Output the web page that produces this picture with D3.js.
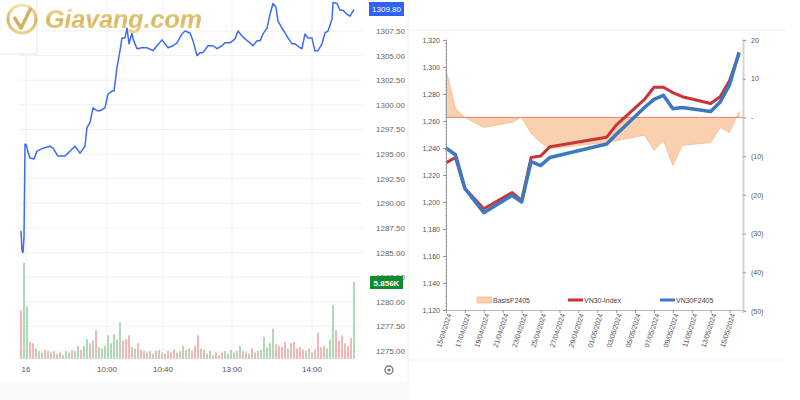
<!DOCTYPE html>
<html>
<head>
<meta charset="utf-8">
<script src="https://cdn.jsdelivr.net/npm/d3@7"></script>
<style>
  html, body { margin: 0; padding: 0; background: #fff; }
  svg { display: block; font-family: "Liberation Sans", Arial, sans-serif; }
</style>
</head>
<body>
<script>
/* global d3 */
// ---- left chart: gold intraday (t = session minute index) ----
const priceT = [1, 2, 3, 4, 5, 6, 8, 10, 14, 17, 23, 30, 33, 38, 45, 48, 55, 60, 65, 67, 70, 73, 77, 80, 85, 88, 92, 94,
  97, 100, 102, 105, 107, 109, 112, 113, 117, 122, 127, 133, 137, 142, 145, 148, 153, 157, 162, 165, 170, 173, 177,
  180, 183, 188, 193, 197, 202, 205, 210, 215, 218, 222, 225, 230, 233, 237, 240, 243, 247, 250, 253, 256, 258, 262,
  265, 268, 272, 275, 280, 282, 285, 288, 292, 293, 295, 298, 302, 305, 308, 312, 313, 317, 320, 323, 327, 330, 334];
const priceV = [1287.2, 1285.2, 1285.0, 1286.5, 1296.0, 1296.0, 1295.2, 1294.6, 1294.5, 1295.3, 1295.6, 1295.8, 1295.6,
  1294.8, 1294.8, 1295.1, 1295.8, 1295.1, 1295.8, 1297.7, 1298.2, 1299.7, 1299.4, 1299.4, 1299.7, 1301.1, 1301.4,
  1301.4, 1303.8, 1305.5, 1306.8, 1306.8, 1307.8, 1306.2, 1307.3, 1306.7, 1305.7, 1305.8, 1305.8, 1305.5, 1306.0,
  1306.6, 1306.2, 1305.8, 1306.0, 1306.3, 1307.2, 1307.5, 1307.3, 1306.5, 1305.0, 1305.3, 1305.3, 1306.0, 1306.0,
  1305.7, 1306.0, 1306.3, 1306.3, 1306.7, 1307.5, 1307.0, 1306.7, 1306.3, 1306.0, 1306.5, 1306.5, 1307.2, 1307.8,
  1309.2, 1310.3, 1309.9, 1308.5, 1307.8, 1307.3, 1306.8, 1306.2, 1306.2, 1305.8, 1305.7, 1307.2, 1306.8, 1306.8,
  1306.3, 1305.5, 1305.5, 1306.2, 1307.3, 1307.5, 1308.7, 1310.4, 1310.3, 1309.6, 1309.6, 1309.2, 1309.0, 1309.7];
const volK = [3.7, 7.3, 4.0, 1.3, 1.2, 0.8, 0.6, 0.5, 0.7, 0.6, 0.5, 0.6, 0.4, 0.5, 0.3, 0.6, 0.5, 0.7, 0.6, 1.0,
  0.7, 1.0, 1.5, 1.2, 1.4, 2.2, 0.9, 0.8, 1.0, 1.8, 1.2, 1.9, 1.5, 2.8, 1.4, 1.5, 1.8, 0.9, 0.8, 1.2,
  0.7, 0.6, 0.5, 0.6, 0.4, 0.6, 0.7, 0.5, 0.4, 0.6, 0.5, 0.7, 0.5, 0.6, 1.0, 0.7, 0.8, 0.6, 1.0, 1.8,
  0.8, 0.7, 0.4, 0.6, 0.3, 0.5, 0.3, 0.5, 0.6, 0.4, 0.7, 0.5, 0.6, 1.0, 0.6, 0.5, 0.4, 0.8, 0.5, 0.6,
  0.7, 1.7, 0.9, 1.2, 2.3, 1.1, 1.0, 0.9, 1.3, 0.8, 1.2, 1.3, 0.8, 0.9, 0.7, 0.6, 0.8, 0.5, 0.7, 2.0,
  0.9, 1.0, 0.8, 1.5, 4.1, 2.2, 1.4, 1.8, 1.2, 1.0, 1.6, 5.856];
const volUp = [0, 1, 1, 0, 0, 1, 0, 1, 0, 0, 1, 0, 0, 1, 0, 1, 1, 0, 1, 1,
  0, 1, 1, 0, 1, 0, 1, 1, 1, 1, 1, 1, 1, 1, 0, 0, 0, 0, 1, 0,
  0, 0, 1, 0, 1, 0, 1, 0, 1, 0, 0, 0, 1, 0, 1, 1, 0, 0, 0, 0,
  0, 1, 0, 1, 0, 0, 1, 0, 1, 1, 1, 0, 1, 1, 0, 0, 1, 0, 1, 0,
  1, 1, 1, 1, 1, 0, 0, 0, 0, 1, 0, 0, 0, 0, 0, 1, 0, 1, 0, 0,
  0, 0, 1, 1, 1, 0, 0, 0, 0, 0, 0, 1];
const priceTicks = [1275, 1277.5, 1280, 1282.5, 1285, 1287.5, 1290, 1292.5, 1295, 1297.5, 1300, 1302.5, 1305, 1307.5];
const timeTicks = [6, 87, 143, 212, 292];
const timeLabels = ['16', '10:00', '10:40', '13:00', '14:00'];
const lastPrice = '1309.80';
const lastVol = '5.856K';

// ---- right chart: VN30 vs VN30F2405 ----
const days = ['2024-04-15', '2024-04-16', '2024-04-17', '2024-04-19', '2024-04-22', '2024-04-23', '2024-04-24',
  '2024-04-25', '2024-04-26', '2024-05-02', '2024-05-03', '2024-05-06', '2024-05-07', '2024-05-08', '2024-05-09',
  '2024-05-10', '2024-05-13', '2024-05-14', '2024-05-15', '2024-05-16'];
const vn30Index = [1229, 1233, 1210, 1195, 1207, 1201, 1233, 1234, 1241, 1248, 1257, 1276, 1285, 1285, 1281, 1278,
  1273, 1278, 1290, 1310];
const vn30F = [1240, 1235, 1210, 1192, 1205, 1200, 1230, 1227, 1233, 1243, 1250, 1270, 1276, 1279, 1269, 1270, 1267,
  1274, 1287, 1311];
const basis = [12.5, 2.3, 0, -2.6, -1.3, 0, -4.1, -6.5, -8, -6.5, -6, -4.6, -8.5, -6, -12.4, -7.2, -6.5, -2.6, -3.9, 1.5];
const dateTicks = ['2024-04-15', '2024-04-17', '2024-04-19', '2024-04-21', '2024-04-23', '2024-04-25', '2024-04-27',
  '2024-04-29', '2024-05-01', '2024-05-03', '2024-05-05', '2024-05-07', '2024-05-09', '2024-05-11', '2024-05-13',
  '2024-05-15'];
const leftTicks = [1120, 1140, 1160, 1180, 1200, 1220, 1240, 1260, 1280, 1300, 1320];
const rightTicks = [-50, -40, -30, -20, -10, 0, 10, 20];
const seriesNames = ['BasisF2405', 'VN30-Index', 'VN30F2405'];

(function() {
  'use strict';

  const w = 800;
  const h = 400;

  const svg = d3.select('body')
    .append('svg')
    .attr('width', w)
    .attr('height', h);

  const defs = svg.append('defs');
  const gold = defs.append('linearGradient')
    .attr('id', 'gold')
    .attr('x1', 0).attr('y1', 0).attr('x2', 0).attr('y2', 1);
  gold.append('stop').attr('offset', '0%').attr('stop-color', '#f4e6b0');
  gold.append('stop').attr('offset', '55%').attr('stop-color', '#d8b55c');
  gold.append('stop').attr('offset', '100%').attr('stop-color', '#ecd48e');

  // panel backgrounds
  svg.append('rect')
    .attr('x', 0).attr('y', 381).attr('width', 410).attr('height', 19)
    .attr('fill', '#fafafa');
  svg.append('line')
    .attr('x1', 408).attr('x2', 408).attr('y1', 0).attr('y2', 381)
    .attr('stroke', '#f0f0f0');

  // ================= left chart =================
  const xL = d3.scaleLinear().domain([0, 340]).range([20, 360]);
  const yP = d3.scaleLinear().domain([1275, 1307.5]).range([351, 31]);
  const xV = d3.scaleLinear().domain([0, volK.length - 1]).range([21, 354]);
  const yV = d3.scaleLinear().domain([0, 10]).range([359, 227.5]);

  // grid
  svg.append('g')
    .selectAll('line')
    .data(priceTicks)
    .enter()
    .append('line')
    .attr('x1', 18).attr('x2', 362)
    .attr('y1', (d) => yP(d)).attr('y2', (d) => yP(d))
    .attr('stroke', '#f1f1f1');
  svg.append('g')
    .selectAll('line')
    .data(timeTicks)
    .enter()
    .append('line')
    .attr('x1', (d) => xL(d)).attr('x2', (d) => xL(d))
    .attr('y1', 0).attr('y2', 360)
    .attr('stroke', '#f1f1f1');

  // volume bars
  svg.append('g')
    .selectAll('rect')
    .data(volK)
    .enter()
    .append('rect')
    .attr('x', (d, i) => xV(i) - 0.8)
    .attr('width', 1.6)
    .attr('y', (d) => yV(d))
    .attr('height', (d) => yV(0) - yV(d))
    .attr('fill', (d, i) => volUp[i] ? '#9dd0a5' : '#f3a5a5');

  // price line
  const priceLine = d3.line()
    .x((d, i) => xL(priceT[i]))
    .y((d) => yP(d));
  svg.append('path')
    .datum(priceV)
    .attr('d', priceLine)
    .attr('fill', 'none')
    .attr('stroke', '#3d6cf0')
    .attr('stroke-width', 1.5)
    .attr('stroke-linejoin', 'round');

  // price axis labels
  svg.append('g')
    .selectAll('text')
    .data(priceTicks)
    .enter()
    .append('text')
    .attr('x', 376)
    .attr('y', (d) => yP(d) + 3)
    .attr('font-size', 8)
    .attr('fill', '#666')
    .text((d) => d.toFixed(2));

  // time labels
  svg.append('g')
    .selectAll('text')
    .data(timeTicks)
    .enter()
    .append('text')
    .attr('x', (d) => xL(d))
    .attr('y', 372)
    .attr('text-anchor', 'middle')
    .attr('font-size', 8)
    .attr('fill', '#555')
    .text((d, i) => timeLabels[i]);

  // last value tags
  svg.append('rect')
    .attr('x', 369).attr('y', 2).attr('width', 35).attr('height', 14)
    .attr('fill', '#2f62f2');
  svg.append('text')
    .attr('x', 386.5).attr('y', 12)
    .attr('text-anchor', 'middle')
    .attr('font-size', 8)
    .attr('fill', '#fff')
    .text(lastPrice);
  svg.append('rect')
    .attr('x', 370).attr('y', 276).attr('width', 33).attr('height', 13)
    .attr('fill', '#138a2c');
  svg.append('text')
    .attr('x', 386.5).attr('y', 285.5)
    .attr('text-anchor', 'middle')
    .attr('font-size', 8)
    .attr('font-weight', 'bold')
    .attr('fill', '#fff')
    .text(lastVol);

  // settings icon
  svg.append('circle')
    .attr('cx', 389).attr('cy', 370).attr('r', 4)
    .attr('fill', 'none').attr('stroke', '#777').attr('stroke-width', 1.3);
  svg.append('circle')
    .attr('cx', 389).attr('cy', 370).attr('r', 1.5)
    .attr('fill', '#777');

  // logo
  svg.append('rect')
    .attr('x', -2).attr('y', -2).attr('width', 39).attr('height', 56)
    .attr('fill', '#fff')
    .attr('stroke', '#e8e8e8');
  svg.append('circle')
    .attr('cx', 22).attr('cy', 19).attr('r', 14)
    .attr('fill', 'none')
    .attr('stroke', 'url(#gold)')
    .attr('stroke-width', 3);
  svg.append('path')
    .attr('d', 'M14,17 L21,28 L31,8')
    .attr('fill', 'none')
    .attr('stroke', '#d4b062')
    .attr('stroke-width', 3.5)
    .attr('stroke-linejoin', 'round');
  svg.append('text')
    .attr('x', 45).attr('y', 28)
    .attr('font-size', 25)
    .attr('font-weight', 'bold')
    .attr('font-style', 'italic')
    .attr('fill', 'url(#gold)')
    .text('Giavang.com');

  // ================= right chart =================
  const parse = d3.timeParse('%Y-%m-%d');
  const dayDates = days.map(parse);
  const tickDates = dateTicks.map(parse);

  const xR = d3.scaleTime()
    .domain([parse('2024-04-15'), new Date(2024, 4, 16, 10)])
    .range([446, 743]);
  const yL = d3.scaleLinear().domain([1120, 1320]).range([310, 40]);
  const yR = d3.scaleLinear().domain([-50, 20]).range([311, 40]);

  // frame lines of the pasted picture
  svg.append('line')
    .attr('x1', 410).attr('x2', 786).attr('y1', 30).attr('y2', 30)
    .attr('stroke', '#f0f0f0');
  svg.append('line')
    .attr('x1', 410).attr('x2', 786).attr('y1', 360).attr('y2', 360)
    .attr('stroke', '#f0f0f0');

  // basis area
  const basisArea = d3.area()
    .x((d, i) => xR(dayDates[i]))
    .y0(yR(0))
    .y1((d) => yR(d));
  svg.append('path')
    .datum(basis)
    .attr('d', basisArea)
    .attr('fill', '#fbd0ae')
    .attr('stroke', '#f2ac7e')
    .attr('stroke-width', 0.6);

  svg.append('line')
    .attr('x1', 446).attr('x2', 743)
    .attr('y1', yR(0)).attr('y2', yR(0))
    .attr('stroke', '#e98a70')
    .attr('stroke-width', 1);

  const idxLine = d3.line()
    .x((d, i) => xR(dayDates[i]))
    .y((d) => yL(d));
  svg.append('path')
    .datum(vn30Index)
    .attr('d', idxLine)
    .attr('fill', 'none')
    .attr('stroke', '#c73535')
    .attr('stroke-width', 3)
    .attr('stroke-linejoin', 'round');
  svg.append('path')
    .datum(vn30F)
    .attr('d', idxLine)
    .attr('fill', 'none')
    .attr('stroke', '#3d78c0')
    .attr('stroke-width', 3.5)
    .attr('stroke-linejoin', 'round');

  // left axis with minor ticks
  svg.append('g')
    .selectAll('line')
    .data(d3.range(1120, 1320.1, 2.5))
    .enter()
    .append('line')
    .attr('x1', 445).attr('x2', 447)
    .attr('y1', (d) => yL(d)).attr('y2', (d) => yL(d))
    .attr('stroke', '#aaa')
    .attr('stroke-width', 0.6);

  const axisL = d3.axisLeft(yL)
    .tickValues(leftTicks)
    .tickFormat(d3.format(','))
    .tickSize(3)
    .tickPadding(3);
  const gL = svg.append('g')
    .attr('id', 'y-axis-left')
    .attr('transform', 'translate(446,0)')
    .call(axisL);

  const axisR = d3.axisRight(yR)
    .tickValues(rightTicks)
    .tickFormat((v) => v === 0 ? '-' : v < 0 ? '(' + (-v) + ')' : String(v))
    .tickSize(3)
    .tickPadding(5);
  const gR = svg.append('g')
    .attr('id', 'y-axis-right')
    .attr('transform', 'translate(743,0)')
    .call(axisR);
  gR.select('.domain').attr('stroke', '#d4d4d4').attr('stroke-width', 2);

  const axisB = d3.axisBottom(xR)
    .tickValues(tickDates)
    .tickFormat(d3.timeFormat('%d/%m/%Y'))
    .tickSize(3)
    .tickPadding(2);
  const gB = svg.append('g')
    .attr('id', 'x-axis')
    .attr('transform', 'translate(0,310)')
    .call(axisB);
  gB.selectAll('text')
    .attr('text-anchor', 'end')
    .attr('transform', 'rotate(-72)')
    .attr('dx', '-0.4em')
    .attr('dy', '0.2em');

  [gL, gR, gB].forEach((g) => {
    g.selectAll('text').attr('font-size', 7).attr('fill', '#555')
      .attr('font-family', '"Liberation Sans", Arial, sans-serif');
    g.selectAll('.tick line').attr('stroke', '#999');
  });
  gL.select('.domain').attr('stroke', '#999');
  gB.select('.domain').attr('stroke', '#bbb');

  // legend
  const legendX = [477, 568, 660];
  const lg = svg.append('g')
    .selectAll('g')
    .data(seriesNames)
    .enter()
    .append('g')
    .attr('transform', (d, i) => 'translate(' + legendX[i] + ',300)');
  lg.append('rect')
    .attr('x', 0)
    .attr('y', (d, i) => i === 0 ? -3 : -1.5)
    .attr('width', 15)
    .attr('height', (d, i) => i === 0 ? 6 : 3)
    .attr('fill', (d, i) => ['#fbd0ae', '#c73535', '#3d78c0'][i])
    .attr('stroke', (d, i) => i === 0 ? '#f2ac7e' : 'none')
    .attr('stroke-width', 0.6);
  lg.append('text')
    .attr('x', 16)
    .attr('y', 2.5)
    .attr('font-size', 7)
    .attr('fill', '#444')
    .text((d) => d);
}());
</script>
</body>
</html>
